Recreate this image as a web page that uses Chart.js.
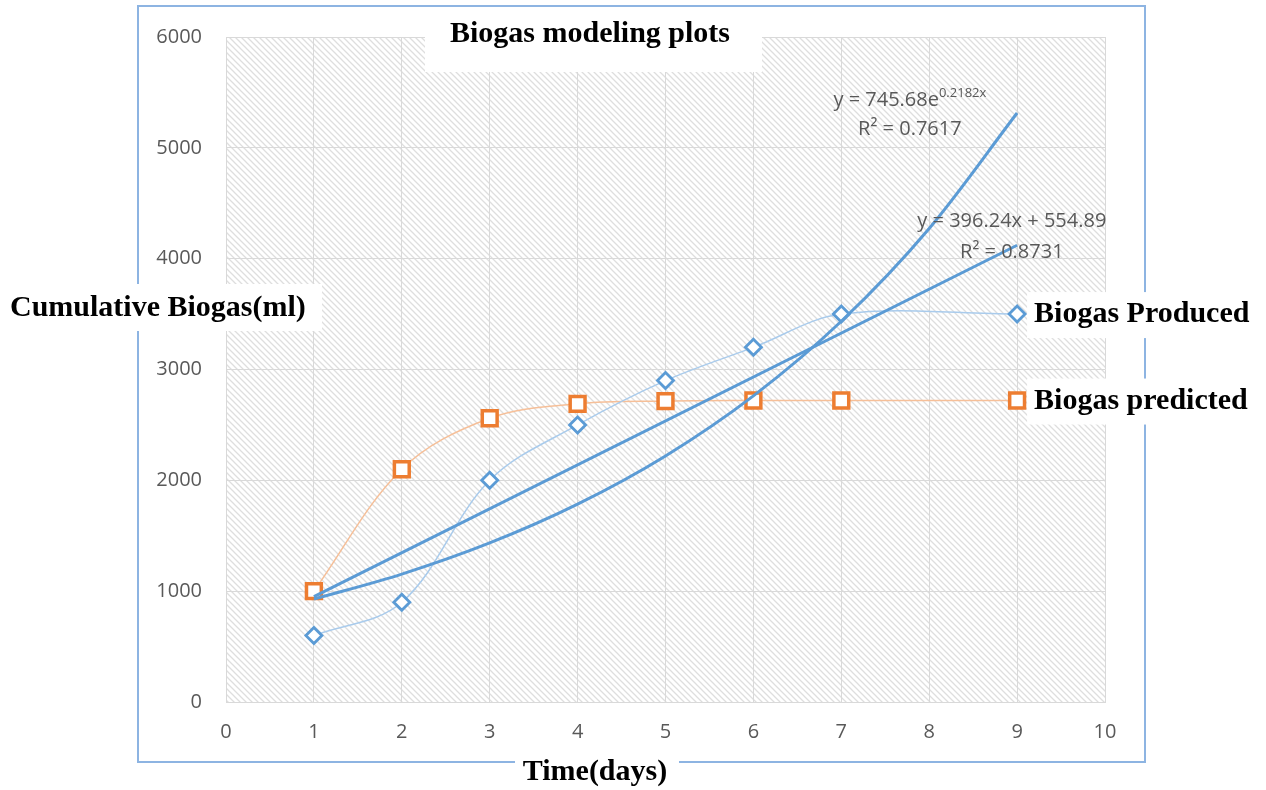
<!DOCTYPE html>
<html>
<head>
<meta charset="utf-8">
<script src="https://cdn.jsdelivr.net/npm/chart.js@4.4.1/dist/chart.umd.min.js"></script>
<style>
  html, body { margin: 0; padding: 0; background: #fff; }
  #wykres { display: block; }
</style>
</head>
<body>
<canvas id="wykres" width="1266" height="790"></canvas>
<script>
// values
const days = [1, 2, 3, 4, 5, 6, 7, 9];
const biogasProduced = [600, 900, 2000, 2500, 2900, 3200, 3500, 3500];
const biogasPredicted = [1000, 2100, 2560, 2690, 2715, 2720, 2720, 2720];
const linearFitDays = [1, 9];
const linearFit = [951, 4121];
const expFitDays = [1, 2, 3, 4, 5, 6, 7, 8, 9];
const expFit = [928, 1154, 1435, 1785, 2220, 2762, 3435, 4273, 5314];
const xTicks = [0, 1, 2, 3, 4, 5, 6, 7, 8, 9, 10];
const yTicks = [0, 1000, 2000, 3000, 4000, 5000, 6000];

const zip = (xs, ys) => xs.map((x, i) => ({ x: x, y: ys[i] }));

const SERIF = 'bold 30px "Liberation Serif", "Times New Roman", serif';
const SANS = '"Open Sans", sans-serif';

function hatch() {
  const c = document.createElement('canvas');
  c.width = 6;
  c.height = 6;
  const g = c.getContext('2d');
  g.strokeStyle = '#dedede';
  g.lineWidth = 1.3;
  g.beginPath();
  g.moveTo(-1, -1); g.lineTo(7, 7);
  g.moveTo(-1, 5); g.lineTo(1, 7);
  g.moveTo(5, -1); g.lineTo(7, 1);
  g.stroke();
  return g.createPattern(c, 'repeat');
}

function whiteText(ctx, text, x, y, box) {
  ctx.fillStyle = '#fff';
  ctx.fillRect(box[0], box[1], box[2], box[3]);
  ctx.fillStyle = '#000';
  ctx.fillText(text, x, y);
}

function equation(ctx, cx, baseline, main, sup) {
  ctx.font = '20px ' + SANS;
  const w1 = ctx.measureText(main).width;
  ctx.font = '13px ' + SANS;
  const w2 = sup ? ctx.measureText(sup).width : 0;
  const left = cx - (w1 + w2) / 2;
  ctx.fillStyle = '#595959';
  ctx.textAlign = 'left';
  ctx.textBaseline = 'alphabetic';
  ctx.font = '20px ' + SANS;
  ctx.fillText(main, left, baseline);
  if (sup) {
    ctx.font = '13px ' + SANS;
    ctx.fillText(sup, left + w1, baseline - 9);
  }
}

const decor = {
  id: 'decor',
  beforeDraw(chart) {
    const ctx = chart.ctx;
    const a = chart.chartArea;
    ctx.save();
    ctx.fillStyle = '#fff';
    ctx.fillRect(0, 0, chart.width, chart.height);
    ctx.strokeStyle = '#8db4e2';
    ctx.lineWidth = 2;
    ctx.strokeRect(138, 6, 1007, 756);
    ctx.fillStyle = hatch();
    ctx.fillRect(a.left, a.top, a.right - a.left, a.bottom - a.top);
    ctx.restore();
  },
  afterDraw(chart) {
    const ctx = chart.ctx;
    const xs = chart.scales.x;
    const ys = chart.scales.y;
    ctx.save();
    ctx.font = SERIF;
    ctx.textBaseline = 'alphabetic';
    ctx.textAlign = 'center';
    whiteText(ctx, 'Biogas modeling plots', 590, 42, [425, 8, 337, 64]);
    whiteText(ctx, 'Time(days)', 595, 780, [515, 752, 164, 38]);
    ctx.textAlign = 'left';
    whiteText(ctx, 'Cumulative Biogas(ml)', 10, 316, [0, 284, 322, 47]);

    // series names next to their last point
    chart.data.datasets.forEach((ds, i) => {
      if (!ds.seriesName) return;
      const pts = chart.getDatasetMeta(i).data;
      const p = pts[pts.length - 1];
      const w = ctx.measureText(ds.seriesName).width;
      whiteText(ctx, ds.seriesName, p.x + 17, p.y + 8, [p.x + 10, p.y - 22, w + 20, 46]);
    });

    // trendline equations
    equation(ctx, xs.getPixelForValue(7.78), ys.getPixelForValue(5380), 'y = 745.68e', '0.2182x');
    equation(ctx, xs.getPixelForValue(7.78), ys.getPixelForValue(5120), 'R\u00b2 = 0.7617');
    equation(ctx, xs.getPixelForValue(8.94), ys.getPixelForValue(4290), 'y = 396.24x + 554.89');
    equation(ctx, xs.getPixelForValue(8.94), ys.getPixelForValue(4010), 'R\u00b2 = 0.8731');
    ctx.restore();
  }
};

const tickFont = { family: SANS, size: 20 };

new Chart(document.getElementById('wykres'), {
  type: 'line',
  data: {
    datasets: [
      {
        data: zip(linearFitDays, linearFit),
        borderColor: '#5b9bd5',
        borderWidth: 3,
        pointRadius: 0,
        tension: 0,
      },
      {
        data: zip(expFitDays, expFit),
        borderColor: '#5b9bd5',
        borderWidth: 3,
        pointRadius: 0,
        cubicInterpolationMode: 'monotone',
      },
      {
        seriesName: 'Biogas Produced',
        data: zip(days, biogasProduced),
        borderColor: '#a9cbec',
        borderWidth: 1.5,
        tension: 0.35,
        pointStyle: 'rectRot',
        pointRadius: 8,
        pointBorderWidth: 2.8,
        pointBorderColor: '#5b9bd5',
        pointBackgroundColor: '#fff',
      },
      {
        seriesName: 'Biogas predicted',
        data: zip(days, biogasPredicted),
        borderColor: '#f6bf98',
        borderWidth: 1.5,
        tension: 0.35,
        pointStyle: 'rect',
        pointRadius: 10.5,
        pointBorderWidth: 3.5,
        pointBorderColor: '#ed7d31',
        pointBackgroundColor: '#fff',
      },
    ],
  },
  options: {
    responsive: false,
    animation: false,
    devicePixelRatio: 1,
    layout: { padding: { top: 37, right: 161, left: 0, bottom: 0 } },
    plugins: {
      legend: { display: false },
      tooltip: { enabled: false },
    },
    scales: {
      x: {
        type: 'linear',
        min: 0,
        max: 10,
        afterBuildTicks: (s) => { s.ticks = xTicks.map((v) => ({ value: v })); },
        afterFit: (s) => { s.height = 88; },
        grid: { color: '#d9d9d9', drawTicks: false },
        border: { display: true, color: '#d9d9d9' },
        ticks: { padding: 18, color: '#595959', font: tickFont, callback: (v) => String(v) },
      },
      y: {
        min: 0,
        max: 6000,
        afterBuildTicks: (s) => { s.ticks = yTicks.map((v) => ({ value: v })); },
        afterFit: (s) => { s.width = 226; },
        grid: { color: '#d9d9d9', drawTicks: false },
        border: { display: true, color: '#d9d9d9' },
        ticks: { padding: 24, color: '#595959', font: tickFont, callback: (v) => String(v) },
      },
    },
  },
  plugins: [decor],
});
</script>
</body>
</html>
